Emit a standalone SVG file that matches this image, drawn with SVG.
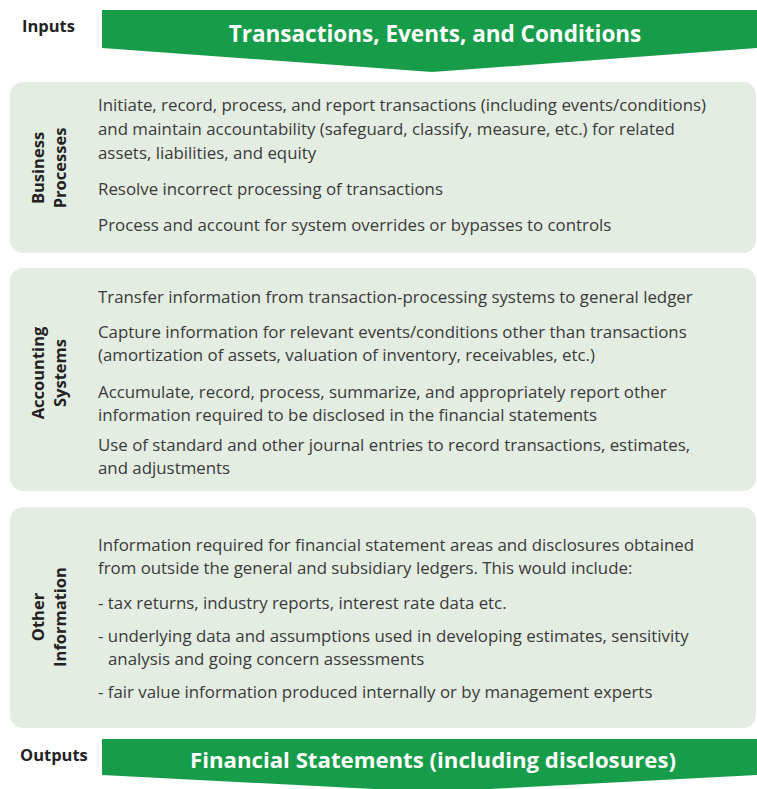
<svg xmlns="http://www.w3.org/2000/svg" width="757" height="789" viewBox="0 0 757 789">
<style>
.box{fill:#e3ede1}
.ban{fill:#179c4a}
.bt{font-family:"Open Sans","Noto Sans",sans-serif;font-size:22.5px;font-weight:bold;fill:#fff;text-anchor:middle}
.io{font-family:"Open Sans","Noto Sans",sans-serif;font-size:16.5px;font-weight:bold;fill:#222}
.lab{font-family:"Open Sans","Noto Sans",sans-serif;font-size:16.5px;font-weight:bold;fill:#222;text-anchor:middle}
.t{font-family:"Open Sans","Noto Sans",sans-serif;font-size:16.85px;fill:#3a3a3a}
</style>
<rect width="757" height="789" fill="#fff"/>
<g id="inputs">
<text class="io" x="22" y="32">Inputs</text>
<path class="ban" d="M102,10 H757 V48 L432,72 L102,48 Z"/>
<text class="bt" x="435" y="42">Transactions, Events, and Conditions</text>
</g>
<g id="business">
<rect class="box" x="10" y="82" width="746" height="171" rx="13"/>
<text class="lab" transform="translate(44,168) rotate(-90)">Business</text>
<text class="lab" transform="translate(66,168) rotate(-90)">Processes</text>
<text class="t" x="98" y="111">Initiate, record, process, and report transactions (including events/conditions)</text>
<text class="t" x="98" y="135">and maintain accountability (safeguard, classify, measure, etc.) for related</text>
<text class="t" x="98" y="159">assets, liabilities, and equity</text>
<text class="t" x="98" y="195">Resolve incorrect processing of transactions</text>
<text class="t" x="98" y="231">Process and account for system overrides or bypasses to controls</text>
</g>
<g id="accounting">
<rect class="box" x="10" y="268" width="746" height="223" rx="13"/>
<text class="lab" transform="translate(44,373) rotate(-90)">Accounting</text>
<text class="lab" transform="translate(66,373) rotate(-90)">Systems</text>
<text class="t" x="98" y="303">Transfer information from transaction-processing systems to general ledger</text>
<text class="t" x="98" y="338">Capture information for relevant events/conditions other than transactions</text>
<text class="t" x="98" y="361">(amortization of assets, valuation of inventory, receivables, etc.)</text>
<text class="t" x="98" y="398">Accumulate, record, process, summarize, and appropriately report other</text>
<text class="t" x="98" y="421">information required to be disclosed in the financial statements</text>
<text class="t" x="98" y="451">Use of standard and other journal entries to record transactions, estimates,</text>
<text class="t" x="98" y="474">and adjustments</text>
</g>
<g id="other">
<rect class="box" x="10" y="507" width="746" height="221" rx="13"/>
<text class="lab" transform="translate(44,617) rotate(-90)">Other</text>
<text class="lab" transform="translate(66,617) rotate(-90)">Information</text>
<text class="t" x="98" y="551">Information required for financial statement areas and disclosures obtained</text>
<text class="t" x="98" y="574">from outside the general and subsidiary ledgers. This would include:</text>
<text class="t" x="98" y="609">- tax returns, industry reports, interest rate data etc.</text>
<text class="t" x="98" y="642">- underlying data and assumptions used in developing estimates, sensitivity</text>
<text class="t" x="108" y="665">analysis and going concern assessments</text>
<text class="t" x="98" y="698">- fair value information produced internally or by management experts</text>
</g>
<g id="outputs">
<text class="io" x="20" y="761">Outputs</text>
<path class="ban" d="M102,739 H757 V775 L432,792 L102,775 Z"/>
<text class="bt" x="433" y="768" style="font-size:22.2px">Financial Statements (including disclosures)</text>
</g>
<g id="connectors"></g>
</svg>
